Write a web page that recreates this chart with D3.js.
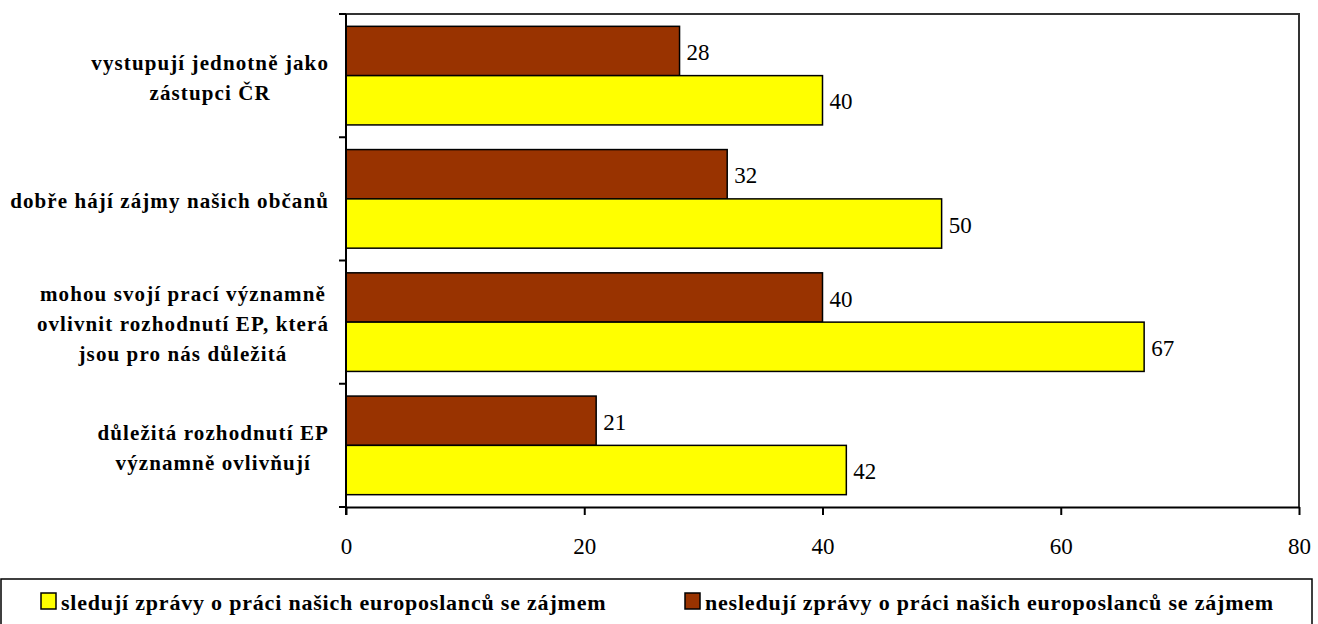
<!DOCTYPE html>
<html>
<head>
<meta charset="utf-8">
<script src="https://cdn.jsdelivr.net/npm/d3@7"></script>
<style>
  html, body { margin: 0; padding: 0; background: #fff; }
  svg { display: block; }
</style>
</head>
<body>
<svg id="chart" width="1318" height="624"></svg>
<script>
// ---- data ----
const categories = [
  "vystupují jednotně jako zástupci ČR",
  "dobře hájí zájmy našich občanů",
  "mohou svojí prací významně ovlivnit rozhodnutí EP, která jsou pro nás důležitá",
  "důležitá rozhodnutí EP významně ovlivňují"
];
const categoryLines = [
  ["vystupují jednotně jako", "zástupci ČR"],
  ["dobře hájí zájmy našich občanů"],
  ["mohou svojí prací významně", "ovlivnit rozhodnutí EP, která", "jsou pro nás důležitá"],
  ["důležitá rozhodnutí EP", "významně ovlivňují"]
];
const seriesNames = [
  "nesledují zprávy o práci našich europoslanců se zájmem",
  "sledují zprávy o práci našich europoslanců se zájmem"
];
const notFollowing = [28, 32, 40, 21];
const following = [40, 50, 67, 42];
const xTicks = [0, 20, 40, 60, 80];
const legendOrder = [1, 0];

// ---- layout ----
const FONT = "Liberation Serif";
const colors = ["#993300", "#ffff00"];
const plotL = 346, plotR = 1299, plotT = 14, plotB = 507;
const svg = d3.select("#chart");

const x = d3.scaleLinear().domain([0, 80]).range([plotL, plotR]);
const y0 = d3.scaleBand().domain(categories).range([plotT, plotB]).padding(0);
const y1 = d3.scaleBand().domain([0, 1]).range([0, y0.bandwidth()]).paddingInner(0).paddingOuter(0.25);

const seriesValues = [notFollowing, following];

// frame (top + right)
svg.append("path")
  .attr("d", `M${plotL},${plotT}H${plotR}V${plotB}`)
  .attr("fill", "none").attr("stroke", "#333").attr("stroke-width", 2);

// bars
seriesValues.forEach((vals, si) => {
  svg.append("g").selectAll("rect")
    .data(vals)
    .join("rect")
    .attr("x", x(0))
    .attr("y", (d, i) => y0(categories[i]) + y1(si))
    .attr("width", d => x(d) - x(0))
    .attr("height", y1.bandwidth())
    .attr("fill", colors[si])
    .attr("stroke", "#000").attr("stroke-width", 1.5);

  svg.append("g").selectAll("text")
    .data(vals)
    .join("text")
    .attr("x", d => x(d) + 7)
    .attr("y", (d, i) => y0(categories[i]) + y1(si) + y1.bandwidth() / 2 + 1)
    .attr("dy", "0.35em")
    .style("font-family", FONT)
    .style("font-size", "23px")
    .attr("fill", "#000")
    .text(d => d);
});

// x axis
const xAxis = svg.append("g")
  .attr("transform", `translate(0,${plotB})`)
  .call(d3.axisBottom(x).tickValues(xTicks).tickSize(8).tickSizeOuter(0).tickPadding(23));
xAxis.select(".domain").attr("stroke", "#000").attr("stroke-width", 2);
xAxis.selectAll(".tick line").attr("stroke", "#000").attr("stroke-width", 2);
xAxis.selectAll(".tick text")
  .style("font-family", FONT)
  .style("font-size", "23px").attr("fill", "#000");

// y axis: line with ticks at band boundaries
const yBoundaries = categories.map(c => y0(c)).concat([plotB]);
svg.append("line")
  .attr("x1", plotL).attr("x2", plotL).attr("y1", plotT).attr("y2", plotB + 8)
  .attr("stroke", "#000").attr("stroke-width", 2);
svg.append("g").selectAll("line")
  .data(yBoundaries)
  .join("line")
  .attr("x1", plotL - 7).attr("x2", plotL)
  .attr("y1", d => d).attr("y2", d => d)
  .attr("stroke", "#000").attr("stroke-width", 2);

// category labels
const labelRight = 329, lineH = 30;
categoryLines.forEach((lines, i) => {
  const cy = y0(categories[i]) + y0.bandwidth() / 2 + 2;
  const g = svg.append("g");
  const texts = g.selectAll("text")
    .data(lines)
    .join("text")
    .attr("y", (d, j) => cy + (j - (lines.length - 1) / 2) * lineH)
    .attr("dy", "0.35em")
    .attr("text-anchor", "middle")
    .style("font-family", FONT)
    .style("font-weight", "bold")
    .style("font-size", "21px")
    .style("letter-spacing", "1.1px")
    .attr("fill", "#000")
    .text(d => d);
  let maxW = 0;
  texts.each(function () { maxW = Math.max(maxW, this.getComputedTextLength()); });
  texts.attr("x", labelRight - maxW / 2);
});

// legend
svg.append("rect")
  .attr("x", 1).attr("y", 579).attr("width", 1311).attr("height", 60)
  .attr("fill", "#fff").attr("stroke", "#000").attr("stroke-width", 1.5);
const legendX = [41, 685];
legendOrder.forEach((si, k) => {
  svg.append("rect")
    .attr("x", legendX[k]).attr("y", 593).attr("width", 15).attr("height", 16)
    .attr("fill", colors[si]).attr("stroke", "#000").attr("stroke-width", 1.5);
  svg.append("text")
    .attr("x", legendX[k] + 20).attr("y", 610)
    .style("font-family", FONT)
    .style("font-weight", "bold")
    .style("font-size", "22px")
    .style("letter-spacing", "0.8px")
    .attr("fill", "#000")
    .text(seriesNames[si]);
});
</script>
</body>
</html>
